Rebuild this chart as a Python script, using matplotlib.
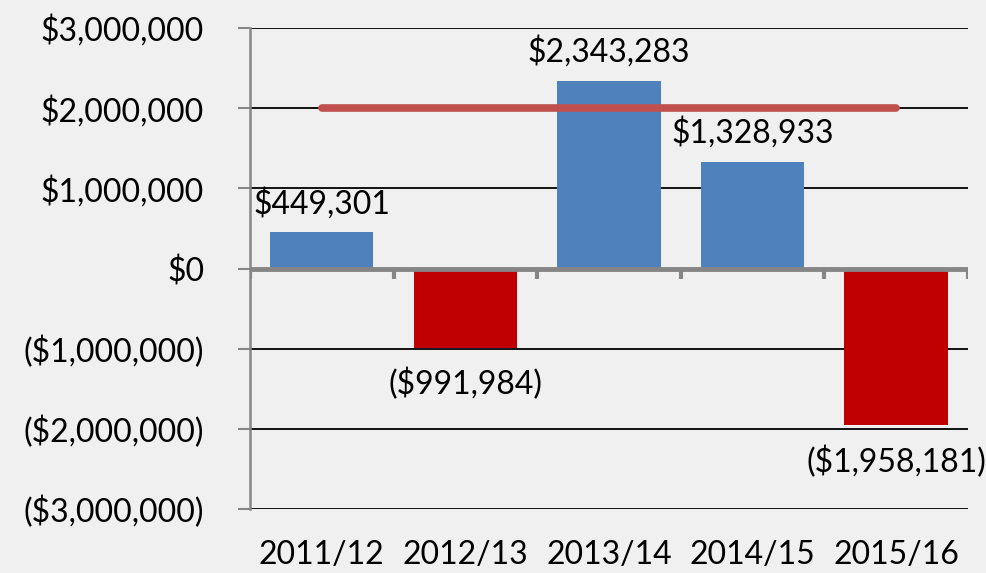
import matplotlib
matplotlib.use("Agg")
import matplotlib.pyplot as plt
from matplotlib.ticker import FuncFormatter

# chart data
years = ["2011/12", "2012/13", "2013/14", "2014/15", "2015/16"]
net_result = [449301, -991984, 2343283, 1328933, -1958181]
target = 2000000
y_ticks = [-3000000, -2000000, -1000000, 0, 1000000, 2000000, 3000000]

BG = "#f0f0f0"
BLUE = "#4f81bd"
RED = "#c00000"
LINE_RED = "#c0504d"
AXIS_GRAY = "#868686"
FS = 23

plt.rcParams["font.family"] = ["Lato", "DejaVu Sans"]


def money(v, pos=None):
    if v < 0:
        return "(${:,.0f})".format(-v)
    return "${:,.0f}".format(v)


fig = plt.figure(figsize=(9.87, 5.73), dpi=100, facecolor=BG)
ax = fig.add_axes([0.2533, 0.1117, 0.7274, 0.8394], facecolor=BG)

x = list(range(len(years)))
colors = [BLUE if v >= 0 else RED for v in net_result]
ax.bar(x, net_result, width=0.72, color=colors, zorder=3)

# target line across the category centres
ax.plot([x[0], x[-1]], [target, target], color=LINE_RED, lw=5.5,
        solid_capstyle="round", zorder=4)

# data labels
for xi, v in zip(x, net_result):
    if v >= 0:
        ax.text(xi, v + 165000, money(v), ha="center", va="bottom", fontsize=FS, zorder=5)
    else:
        ax.text(xi, v - 250000, money(v), ha="center", va="top", fontsize=FS, zorder=5)

ax.set_xlim(-0.5, len(years) - 0.5)
ax.set_ylim(-3000000, 3000000)
ax.set_yticks(y_ticks)
ax.yaxis.set_major_formatter(FuncFormatter(money))
ax.tick_params(axis="y", length=9, width=1.5, color=AXIS_GRAY, pad=24, labelsize=FS)

ax.set_xticks(x)
ax.set_xticklabels(years)
ax.tick_params(axis="x", length=0, pad=22, labelsize=FS)

ax.grid(axis="y", color="black", lw=1.3, zorder=1)

for side in ["top", "right", "bottom"]:
    ax.spines[side].set_visible(False)
ax.spines["left"].set_color(AXIS_GRAY)
ax.spines["left"].set_linewidth(1.8)

# category axis drawn at zero with downward ticks
ax.axhline(0, color=AXIS_GRAY, lw=3.5, zorder=4)
bounds = [i - 0.5 for i in range(len(years) + 1)]
ax.vlines(bounds, -125000, 0, color=AXIS_GRAY, lw=3, zorder=4)

fig.savefig("out.png", dpi=100, facecolor=BG)
